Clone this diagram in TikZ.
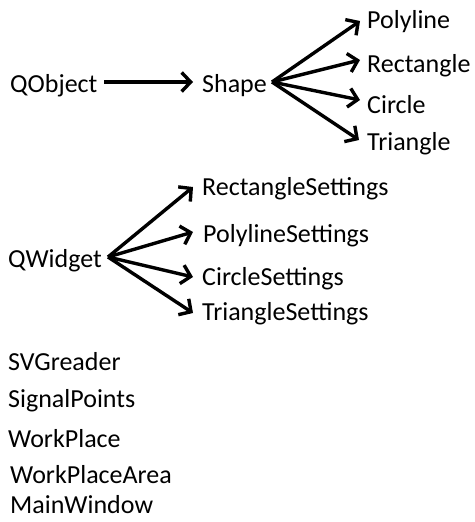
\documentclass[tikz,border=0pt]{standalone}
\usepackage{fontspec}
\setmainfont{Carlito}
\usetikzlibrary{arrows.meta,calc}
\tikzset{
  lbl/.style={anchor=base west,inner sep=0pt,font=\fontsize{26pt}{30pt}\selectfont},
  conn/.style={line width=3.4pt,-{Straight Barb[length=9pt,width=19pt]}}
}
\begin{document}
\begin{tikzpicture}[x=1pt,y=-1pt]
\useasboundingbox (0,0) rectangle (474,522);
% group 1
\node[lbl] (qobject) at (10,92) {QObject};
\node[lbl] (shape) at (202,92) {Shape};
\node[lbl] (polyline) at (367,28) {Polyline};
\node[lbl] (rectangle) at (367,72) {Rectangle};
\node[lbl] (circle) at (367,113) {Circle};
\node[lbl] (triangle) at (367,150) {Triangle};
\coordinate (qo) at (104,82);
\coordinate (sh) at (193,82);
\coordinate (so) at (272,82);
\coordinate (tp) at (360,21);
\coordinate (tr) at (360,60);
\coordinate (tc) at (360,100);
\coordinate (tt) at (359,140);
\draw[conn] (qo) -- (sh);
\draw[conn] (so) -- (tp);
\draw[conn] (so) -- (tr);
\draw[conn] (so) -- (tc);
\draw[conn] (so) -- (tt);
% group 2
\node[lbl] (qwidget) at (8,267) {QWidget};
\node[lbl] (rset) at (202,195) {RectangleSettings};
\node[lbl] (pset) at (203,242) {PolylineSettings};
\node[lbl] (cset) at (202,285) {CircleSettings};
\node[lbl] (tset) at (202,320) {TriangleSettings};
\coordinate (qw) at (108,257);
\coordinate (wr) at (193,187);
\coordinate (wp) at (193,232);
\coordinate (wc) at (193,277);
\coordinate (wt) at (193,313);
\draw[conn] (qw) -- (wr);
\draw[conn] (qw) -- (wp);
\draw[conn] (qw) -- (wc);
\draw[conn] (qw) -- (wt);
% group 3
\node[lbl] (svg) at (8,370) {SVGreader};
\node[lbl] (sig) at (8,407) {SignalPoints};
\node[lbl] (wpl) at (8,447) {WorkPlace};
\node[lbl] (wpa) at (10,483) {WorkPlaceArea};
\node[lbl] (mw) at (10,513) {MainWindow};
\end{tikzpicture}
\end{document}
